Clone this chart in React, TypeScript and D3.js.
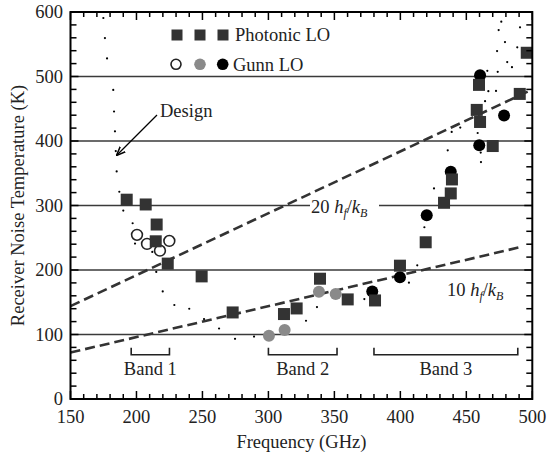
import React from "react";
import * as d3 from "d3";

// ---- data ----
const photonicLO: [number, number][] = [
  [192.6, 309], [207.0, 301.6], [215.3, 270.5], [214.6, 244.5], [223.7, 209.9],
  [249.4, 190.1], [272.9, 134.2], [311.8, 131.7], [321.4, 140.4], [339.1, 186.5],
  [360.1, 154.4], [380.8, 152.8], [399.7, 206.7], [419.2, 243], [433.1, 304.2],
  [438.2, 318.7], [439.1, 340.4], [457.9, 448.2], [460.4, 429.5], [459.6, 487],
  [470, 392.2], [490.5, 473], [495.8, 536.8],
];
const gunnBand1: [number, number][] = [
  [200.4, 254.5], [208, 240.5], [217.8, 230], [224.9, 245.1],
];
const gunnBand2: [number, number][] = [
  [300.4, 97.9], [312.3, 106.8], [338.3, 166.3], [351, 162.8],
];
const gunnBand3: [number, number][] = [
  [378.7, 166.8], [399.7, 188.6], [420, 284.9], [438.2, 352.4],
  [459.8, 393.3], [478.6, 439.5], [460.4, 502.1],
];
const designDots: [number, number][] = [
  [174.9, 590.7], [176.1, 559.6], [177.7, 528], [182.4, 479.2], [183, 445.7],
  [183.7, 415], [184.3, 384.4], [185, 352.9], [187, 321.3], [190, 292.2],
  [197.1, 272.5], [198.9, 241], [212, 228], [215, 197], [219.9, 166.8],
  [228.7, 145.7], [240, 139.9], [251.2, 123.9], [262.6, 109.3], [274.7, 93.3],
  [289.1, 96.8], [328.5, 121.3], [336.8, 142.5], [372.7, 155], [406.5, 180.3],
  [412.8, 207.2], [418.2, 266.3], [425.5, 326.4], [461.1, 367.3], [438.9, 414],
  [445.4, 420.8], [458.6, 412.4], [435.9, 385.5], [460.9, 382], [464.2, 461.7],
  [466.7, 477.2], [472.5, 477.7], [465.9, 508.8], [473.8, 507.2], [481, 522.3],
  [484.6, 514.5], [473.3, 539.4], [488.6, 545.2], [479.3, 553.4], [474.5, 572],
  [490.7, 576.2], [476.5, 585],
];
const line20: [number, number][] = [[150, 144], [498, 478]];
const line10: [number, number][] = [[150, 72], [490, 235]];
const bands = [
  { name: "Band 1", from: 196, to: 225 },
  { name: "Band 2", from: 300, to: 352 },
  { name: "Band 3", from: 380, to: 489 },
];
const xTicks = [150, 200, 250, 300, 350, 400, 450, 500];
const yTicks = [0, 100, 200, 300, 400, 500, 600];
const gridValues = [100, 200, 300, 400, 500];

const W = 551;
const H = 456;
const FONT = "'Liberation Serif', 'Times New Roman', serif";
const FS = 18.5;

export default function App() {
  const x = d3.scaleLinear().domain([150, 500]).range([70.5, 532.3]);
  const y = d3.scaleLinear().domain([0, 600]).range([399, 12]);
  const [x0, x1] = x.range();
  const [yb, yt] = y.range();
  const line = d3.line<[number, number]>().x((d) => x(d[0])).y((d) => y(d[1]));

  const xMinor = d3.range(150, 501, 10);
  const yMinor = d3.range(0, 601, 20);

  const sq = 12;
  const bandY = y(68.5);

  return (
    <svg
      width={W}
      height={H}
      style={{ position: "absolute", left: 0, top: 0, background: "#fff" }}
      fontFamily={FONT}
    >
      <rect width={W} height={H} fill="#fff" />
      {/* grid */}
      {gridValues.map((v) => (
        <line key={v} x1={x0} x2={x1} y1={y(v)} y2={y(v)} stroke="#3a3a3a" strokeWidth={1.6} />
      ))}
      {/* label backgrounds */}
      <rect x={310} y={199} width={69} height={16} fill="#fff" />
      {/* dashed lines */}
      <path d={line(line20) || ""} fill="none" stroke="#333" strokeWidth={2.6} strokeDasharray="10,5" />
      <path d={line(line10) || ""} fill="none" stroke="#333" strokeWidth={2.6} strokeDasharray="10,5" />
      {/* design dots */}
      {designDots.map((d, i) => (
        <circle key={i} cx={x(d[0])} cy={y(d[1])} r={1.1} fill="#000" />
      ))}
      {/* Gunn circles */}
      {gunnBand1.map((d, i) => (
        <circle key={"o" + i} cx={x(d[0])} cy={y(d[1])} r={5.4} fill="#fff" stroke="#222" strokeWidth={1.6} />
      ))}
      {gunnBand2.map((d, i) => (
        <circle key={"g" + i} cx={x(d[0])} cy={y(d[1])} r={6} fill="#8a8a8a" />
      ))}
      {gunnBand3.map((d, i) => (
        <circle key={"b" + i} cx={x(d[0])} cy={y(d[1])} r={6} fill="#000" />
      ))}
      {/* Photonic squares */}
      {photonicLO.map((d, i) => (
        <rect key={"s" + i} x={x(d[0]) - sq / 2} y={y(d[1]) - sq / 2} width={sq} height={sq} fill="#333" />
      ))}
      {/* bands */}
      {bands.map((b) => (
        <g key={b.name}>
          <path
            d={`M${x(b.from)},${bandY - 7}V${bandY}H${x(b.to)}V${bandY - 7}`}
            fill="none"
            stroke="#222"
            strokeWidth={1.6}
          />
          <text x={(x(b.from) + x(b.to)) / 2} y={375} textAnchor="middle" fontSize={FS} fill="#222">
            {b.name}
          </text>
        </g>
      ))}
      {/* line labels */}
      <text x={311} y={213} fontSize={FS} fill="#222">
        20 <tspan fontStyle="italic">h</tspan>
        <tspan fontStyle="italic" fontSize={12} dy={4}>f</tspan>
        <tspan dy={-4}>/</tspan>
        <tspan fontStyle="italic">k</tspan>
        <tspan fontStyle="italic" fontSize={12} dy={4}>B</tspan>
      </text>
      <text x={447} y={296} fontSize={FS} fill="#222">
        10 <tspan fontStyle="italic">h</tspan>
        <tspan fontStyle="italic" fontSize={12} dy={4}>f</tspan>
        <tspan dy={-4}>/</tspan>
        <tspan fontStyle="italic">k</tspan>
        <tspan fontStyle="italic" fontSize={12} dy={4}>B</tspan>
      </text>
      {/* design label */}
      <defs>
        <marker id="arr" viewBox="0 0 10 10" refX={9} refY={5} markerWidth={7} markerHeight={7} orient="auto">
          <path d="M0,1L10,5L0,9" fill="none" stroke="#000" strokeWidth={1.6} />
        </marker>
      </defs>
      <line x1={157} y1={115} x2={117} y2={155} stroke="#000" strokeWidth={1.3} markerEnd="url(#arr)" />
      <text x={160} y={117} fontSize={FS} fill="#222">Design</text>
      {/* legend */}
      {[177, 200, 223].map((cx) => (
        <rect key={"ls" + cx} x={cx - 5.5} y={35 - 5.5} width={11} height={11} fill="#333" />
      ))}
      <circle cx={176} cy={64.3} r={5} fill="#fff" stroke="#222" strokeWidth={1.6} />
      <circle cx={200} cy={64.3} r={5.8} fill="#8a8a8a" />
      <circle cx={222.7} cy={64.3} r={5.8} fill="#000" />
      <text x={235} y={41} fontSize={FS} fill="#222">Photonic LO</text>
      <text x={233} y={70.5} fontSize={FS} fill="#222">Gunn LO</text>
      {/* frame */}
      <rect x={x0} y={yt} width={x1 - x0} height={yb - yt} fill="none" stroke="#000" strokeWidth={2} />
      {/* ticks */}
      {xMinor.map((v) => {
        const len = v % 50 === 0 ? 8 : 5;
        return (
          <g key={"xt" + v}>
            <line x1={x(v)} x2={x(v)} y1={yb} y2={yb - len} stroke="#000" strokeWidth={1.5} />
            <line x1={x(v)} x2={x(v)} y1={yt} y2={yt + len} stroke="#000" strokeWidth={1.5} />
          </g>
        );
      })}
      {yMinor.map((v) => {
        const len = v % 100 === 0 ? 8 : 6;
        return (
          <g key={"yt" + v}>
            <line x1={x0} x2={x0 + len} y1={y(v)} y2={y(v)} stroke="#000" strokeWidth={1.5} />
            <line x1={x1} x2={x1 - len} y1={y(v)} y2={y(v)} stroke="#000" strokeWidth={1.5} />
          </g>
        );
      })}
      {/* tick labels */}
      {xTicks.map((v) => (
        <text key={"xl" + v} x={x(v)} y={423} textAnchor="middle" fontSize={FS} fill="#222">
          {v}
        </text>
      ))}
      {yTicks.map((v) => (
        <text key={"yl" + v} x={63} y={y(v) + 6} textAnchor="end" fontSize={FS} fill="#222">
          {v}
        </text>
      ))}
      {/* axis titles */}
      <text x={(x0 + x1) / 2} y={448} textAnchor="middle" fontSize={FS} fill="#222">
        Frequency (GHz)
      </text>
      <text
        transform={`translate(24,${(yt + yb) / 2}) rotate(-90)`}
        textAnchor="middle"
        fontSize={FS}
        fill="#222"
      >
        Receiver Noise Temperature (K)
      </text>
    </svg>
  );
}
